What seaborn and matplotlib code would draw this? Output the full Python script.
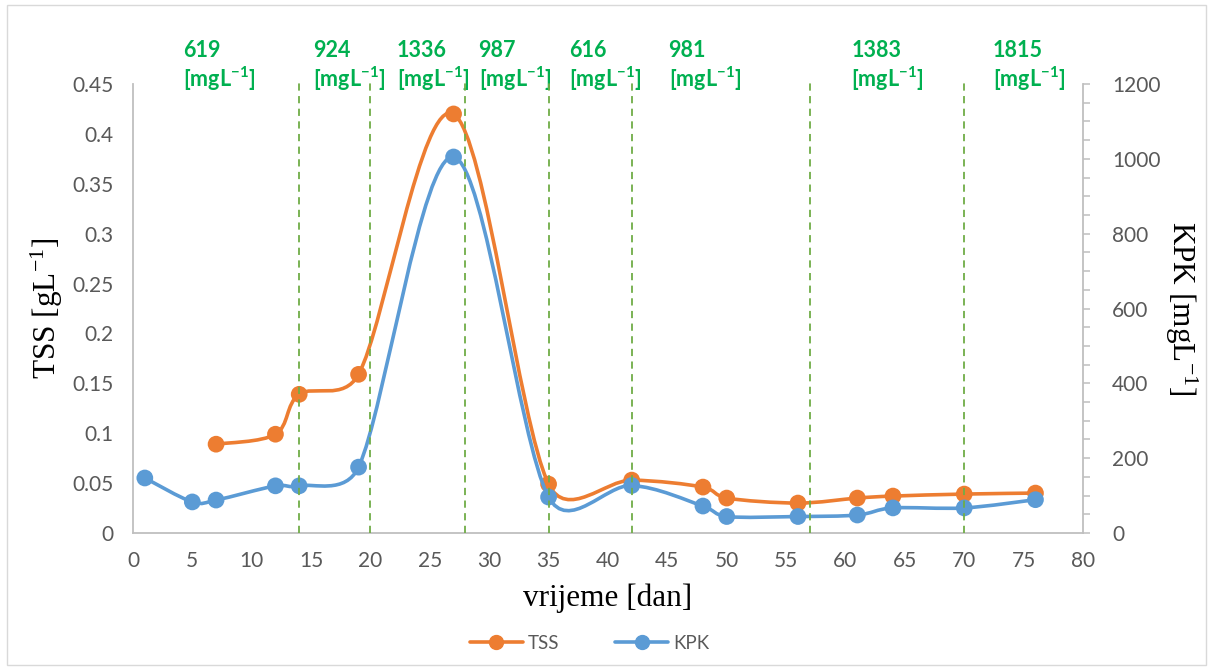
import numpy as np
import pandas as pd
import matplotlib
matplotlib.use("Agg")
import matplotlib.pyplot as plt
from matplotlib.path import Path
from matplotlib.patches import PathPatch, Rectangle
from matplotlib.lines import Line2D
from matplotlib.ticker import MultipleLocator
import seaborn as sns

# podaci ocitani sa grafa
dan_tss = [7, 12, 14, 19, 27, 35, 42, 48, 50, 56, 61, 64, 70, 76]
tss = [0.089, 0.099, 0.139, 0.159, 0.42, 0.049, 0.053, 0.046, 0.035, 0.030, 0.035, 0.037, 0.039, 0.040]

dan_kpk = [1, 5, 7, 12, 14, 19, 27, 35, 42, 48, 50, 56, 61, 64, 70, 76]
kpk = [147, 83, 88, 126, 126, 176, 1005, 96, 127, 72, 44, 44, 48, 67, 67, 89]

# granice perioda i KPK na ulazu
granice = [14, 20, 28, 35, 42, 57, 70]
kpk_ulaz = ["619", "924", "1336", "987", "616", "981", "1383", "1815"]
kpk_ulaz_x = [4.2, 15.2, 22.2, 29.1, 36.7, 45.1, 60.5, 72.4]

narandzasta = "#ED7D31"
plava = "#5B9BD5"
zelena = "#00B050"
siva = "#595959"
osa = "#BFBFBF"

df_tss = pd.DataFrame({"dan": dan_tss, "TSS": tss})
df_kpk = pd.DataFrame({"dan": dan_kpk, "KPK": kpk})

sns.set_style("white")
plt.rcParams["font.family"] = ["Lato", "DejaVu Sans"]
plt.rcParams["mathtext.default"] = "regular"


def glatka_putanja(a, x, y):
    # zaglađena linija kao u Excelu (Bezier, racunato u pikselima)
    P = a.transData.transform(np.column_stack([x, y]))
    n = len(P)
    verts = [P[0]]
    codes = [Path.MOVETO]
    for i in range(n - 1):
        p0 = P[i - 1] if i > 0 else P[i]
        p1, p2 = P[i], P[i + 1]
        p3 = P[i + 2] if i + 2 < n else P[i + 1]
        seg = np.hypot(*(p2 - p1))
        t1 = (p2 - p0) / 6
        t2 = (p3 - p1) / 6
        for t in (t1, t2):
            L = np.hypot(*t)
            if L > seg / 2:
                t *= seg / 2 / L
        verts += [p1 + t1, p2 - t2, p2]
        codes += [Path.CURVE4] * 3
    verts = a.transData.inverted().transform(np.array(verts))
    return Path(verts, codes)


fig = plt.figure(figsize=(12.13, 6.70), dpi=100)
ax = fig.add_axes([0.1096, 0.2045, 0.7832, 0.6701])
ax2 = ax.twinx()

ax.set_xlim(0, 80)
ax.set_ylim(0, 0.45)
ax2.set_ylim(0, 1200)

# okvir oko cijelog grafa
fig.patches.append(Rectangle((0.006, 0.008), 0.988, 0.984, transform=fig.transFigure,
                             fill=False, edgecolor="#D9D9D9", linewidth=1.0))

ax.add_patch(PathPatch(glatka_putanja(ax, dan_tss, tss), facecolor="none", edgecolor=narandzasta,
                       linewidth=2.6, zorder=3, capstyle="round"))
sns.scatterplot(data=df_tss, x="dan", y="TSS", ax=ax, color=narandzasta, s=145,
                edgecolor="none", zorder=4, legend=False)

ax2.add_patch(PathPatch(glatka_putanja(ax2, dan_kpk, kpk), facecolor="none", edgecolor=plava,
                        linewidth=2.6, zorder=3, capstyle="round"))
sns.scatterplot(data=df_kpk, x="dan", y="KPK", ax=ax2, color=plava, s=145,
                edgecolor="none", zorder=4, legend=False)

# vertikalne isprekidane linije (preko krivih)
for g in granice:
    ax2.plot([g, g], [0, 1.013], color="#70AD47", linestyle=(0, (4, 3)), linewidth=1.3,
             transform=ax2.get_xaxis_transform(), clip_on=False, zorder=6)

ax.xaxis.set_major_locator(MultipleLocator(5))
ax.xaxis.set_minor_locator(MultipleLocator(1))
ax2.yaxis.set_major_locator(MultipleLocator(200))
ax2.yaxis.set_minor_locator(MultipleLocator(50))

ax.set_yticks(np.arange(0, 0.451, 0.05))
ax.set_yticklabels(["0", "0.05", "0.1", "0.15", "0.2", "0.25", "0.3", "0.35", "0.4", "0.45"])

for a in (ax, ax2):
    for s in a.spines.values():
        s.set_visible(False)
for s in (ax.spines["bottom"], ax.spines["left"], ax2.spines["right"]):
    s.set_visible(True)
    s.set_color(osa)
    s.set_linewidth(1.3)

ax.tick_params(axis="x", which="both", direction="in", length=5, width=1.1, color=osa,
               labelsize=15, labelcolor=siva, pad=13)
ax.tick_params(axis="y", which="both", length=0, labelsize=15, labelcolor=siva, pad=14)
ax2.tick_params(axis="y", which="both", direction="out", length=5, width=1.1, color=osa,
                labelsize=15, labelcolor=siva, pad=16)

ax.set_xlabel("vrijeme [dan]", family="Liberation Serif", fontsize=22.5, color="black", labelpad=9)
ax.set_ylabel("TSS [gL$^{-1}$]", family="Liberation Serif", fontsize=22.5, color="black", labelpad=5)
ax2.set_ylabel("KPK [mgL$^{-1}$]", family="Liberation Serif", fontsize=22.5, color="black",
               rotation=-90, labelpad=28)

# natpisi KPK na ulazu
for xt, t in zip(kpk_ulaz_x, kpk_ulaz):
    ax.text(xt, 0.484, t, color=zelena, fontsize=15.5, fontweight="bold", ha="left",
            va="center", clip_on=False)
    ax.text(xt, 0.455, "[mgL$^{-1}$]", color=zelena, fontsize=15.5, fontweight="bold",
            ha="left", va="center", clip_on=False)

rucke = [Line2D([0], [0], color=narandzasta, lw=2.6, marker="o", markersize=10, label="TSS"),
         Line2D([0], [0], color=plava, lw=2.6, marker="o", markersize=10, label="KPK")]
leg = fig.legend(handles=rucke, loc="center", bbox_to_anchor=(0.486, 0.04), ncol=2, frameon=False,
                 fontsize=13.5, handlelength=2.8, columnspacing=3.0, handletextpad=0.27)
for t in leg.get_texts():
    t.set_color(siva)

fig.savefig("out.png", dpi=100)
